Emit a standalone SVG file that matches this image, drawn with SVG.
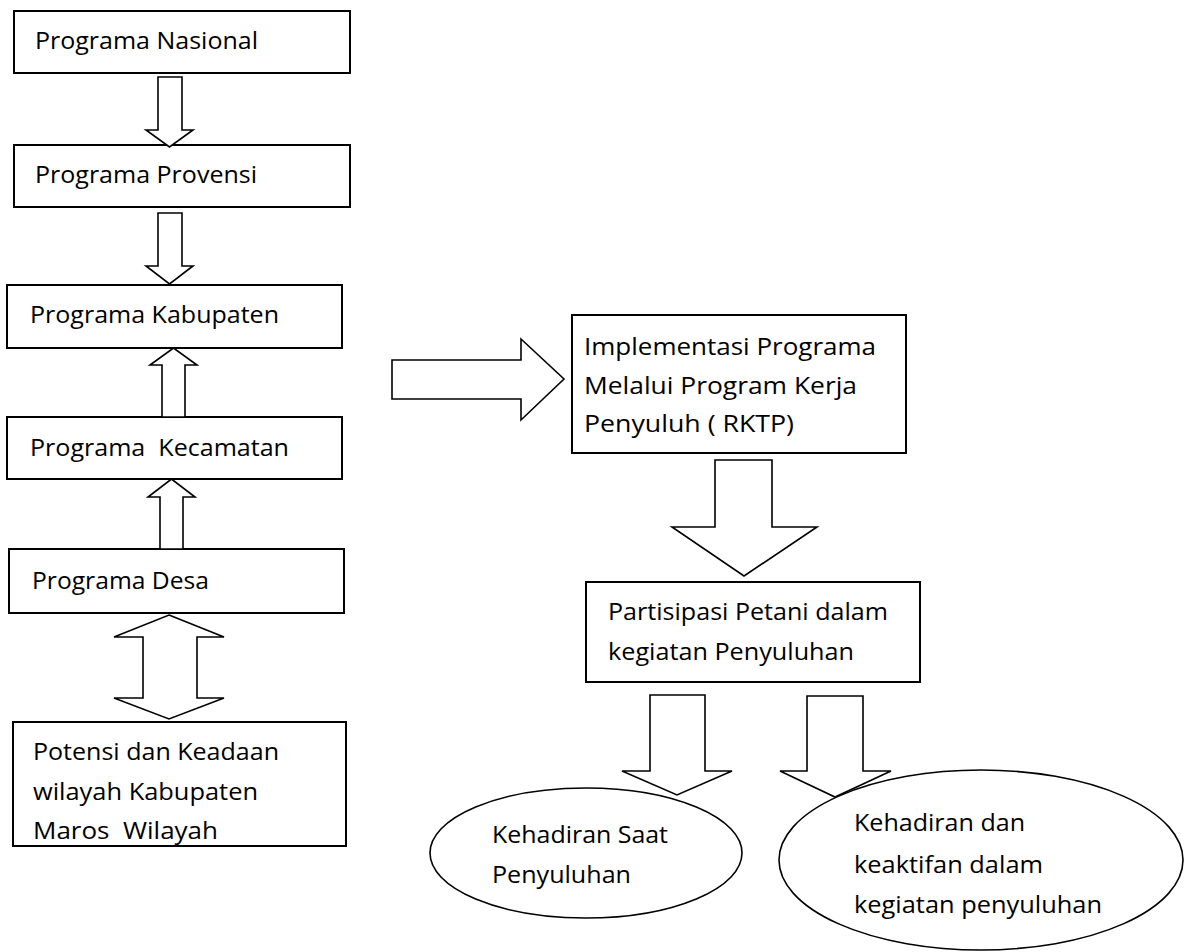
<svg xmlns="http://www.w3.org/2000/svg" width="1186" height="952" viewBox="0 0 1186 952">
<style>
.box{fill:#fff;stroke:#000;stroke-width:2}
.ell{fill:#fff;stroke:#000;stroke-width:1.6}
.arr{fill:#fff;stroke:#000;stroke-width:1.6;stroke-linejoin:miter}
text{font-family:"Open Sans","DejaVu Sans",sans-serif;font-size:24px;fill:#000}
</style>
<rect width="1186" height="952" fill="#fff"/>
<g id="n-nasional"><rect class="box" x="14" y="11" width="336" height="62"/><text x="35" y="49" textLength="223" lengthAdjust="spacingAndGlyphs">Programa Nasional</text></g>
<g id="n-provensi"><rect class="box" x="14" y="145" width="336" height="62"/><text x="35" y="183" textLength="222" lengthAdjust="spacingAndGlyphs">Programa Provensi</text></g>
<g id="n-kabupaten"><rect class="box" x="7" y="285" width="335" height="63"/><text x="30" y="323" textLength="249" lengthAdjust="spacingAndGlyphs">Programa Kabupaten</text></g>
<g id="n-kecamatan"><rect class="box" x="7" y="417" width="335" height="62"/><text x="30" y="456" textLength="259" lengthAdjust="spacingAndGlyphs" xml:space="preserve">Programa  Kecamatan</text></g>
<g id="n-desa"><rect class="box" x="9" y="549" width="335" height="64"/><text x="32" y="589" textLength="177" lengthAdjust="spacingAndGlyphs">Programa Desa</text></g>
<g id="n-potensi"><rect class="box" x="13" y="722" width="333" height="124"/>
<text x="33" y="760" textLength="246" lengthAdjust="spacingAndGlyphs">Potensi dan Keadaan</text>
<text x="33" y="800" textLength="225" lengthAdjust="spacingAndGlyphs">wilayah Kabupaten</text>
<text x="33" y="839" textLength="185" lengthAdjust="spacingAndGlyphs" xml:space="preserve">Maros  Wilayah</text></g>
<g id="n-implementasi"><rect class="box" x="572" y="315" width="334" height="138"/>
<text x="584" y="355" textLength="292" lengthAdjust="spacingAndGlyphs">Implementasi Programa</text>
<text x="584" y="394" textLength="273" lengthAdjust="spacingAndGlyphs">Melalui Program Kerja</text>
<text x="584" y="432" textLength="210" lengthAdjust="spacingAndGlyphs">Penyuluh ( RKTP)</text></g>
<g id="n-partisipasi"><rect class="box" x="586" y="582" width="334" height="100"/>
<text x="608" y="620" textLength="280" lengthAdjust="spacingAndGlyphs">Partisipasi Petani dalam</text>
<text x="608" y="660" textLength="246" lengthAdjust="spacingAndGlyphs">kegiatan Penyuluhan</text></g>
<g id="n-kehadiran"><ellipse class="ell" cx="586" cy="853" rx="156" ry="65"/>
<text x="492" y="843" textLength="176" lengthAdjust="spacingAndGlyphs">Kehadiran Saat</text>
<text x="492" y="883" textLength="139" lengthAdjust="spacingAndGlyphs">Penyuluhan</text></g>
<g id="connectors">
<polygon class="arr" points="158,77 182,77 182,130 193,130 169.5,147 146,130 158,130"/>
<polygon class="arr" points="158,213 182,213 182,266 193,266 169.5,284 146,266 158,266"/>
<polygon class="arr" points="162,417 185,417 185,365 197,365 173.5,348 150,365 162,365"/>
<polygon class="arr" points="160,549 183,549 183,497 195,497 171.5,479 148,497 160,497"/>
<polygon class="arr" points="169,615 224,637 197,637 197,698 224,698 169,719 114,698 143,698 143,637 114,637"/>
<polygon class="arr" points="392,360 521,360 521,339 564,379 521,420 521,399 392,399"/>
<polygon class="arr" points="715,460 772,460 772,527 817,527 744,576 672,527 715,527"/>
<polygon class="arr" points="650,695 705,695 705,771 732,771 677,795 622,771 650,771"/>
<polygon class="arr" points="807,696 863,696 863,771 891,771 835,797 780,771 807,771"/>
</g>
<g id="n-keaktifan"><ellipse class="ell" cx="981" cy="860" rx="202" ry="90"/>
<text x="854" y="831" textLength="171" lengthAdjust="spacingAndGlyphs">Kehadiran dan</text>
<text x="854" y="873" textLength="189" lengthAdjust="spacingAndGlyphs">keaktifan dalam</text>
<text x="854" y="913" textLength="248" lengthAdjust="spacingAndGlyphs">kegiatan penyuluhan</text></g>
</svg>
